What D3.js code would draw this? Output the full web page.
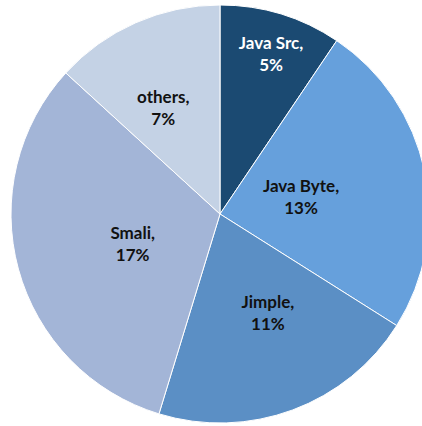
<!DOCTYPE html>
<html>
<head>
<meta charset="utf-8">
<script src="https://cdn.jsdelivr.net/npm/d3@7"></script>
<style>
  html, body { margin: 0; padding: 0; background: #fff; }
  svg { display: block; }
</style>
</head>
<body>
<div id="main"></div>
<script>
// chart data
const categories = ["Java Src", "Java Byte", "Jimple", "Smali", "others"];
const shares = [5, 13, 11, 17, 7];
const colors = ["#1b4a72", "#66a0dc", "#5b8fc5", "#a3b5d7", "#c4d2e5"];
const labelColors = ["#ffffff", "#111111", "#111111", "#111111", "#111111"];

// label placement (radius and small angle nudge, in degrees)
const labelRadius = [169, 83, 109, 92, 121];
const labelNudge = [0.6, -0.6, -5.7, -3.1, -4.2];

const ctx = {
    width: 422,
    height: 426,
    cx: 220,
    cy: 214,
    r: 209
};

function createViz() {
    let svg = d3.select("#main").append("svg")
        .attr("width", ctx.width)
        .attr("height", ctx.height);

    let g = svg.append("g")
        .attr("transform", `translate(${ctx.cx},${ctx.cy})`);

    let pie = d3.pie().sort(null).value(d => d);
    let arcs = pie(shares);

    let arc = d3.arc().innerRadius(0).outerRadius(ctx.r);

    g.selectAll("path.slice")
        .data(arcs)
        .enter().append("path")
        .attr("class", "slice")
        .attr("d", arc)
        .attr("fill", (d, i) => colors[i])
        .attr("stroke", "#ffffff")
        .attr("stroke-width", 1);

    let labels = g.selectAll("text.lbl")
        .data(arcs)
        .enter().append("text")
        .attr("class", "lbl")
        .attr("text-anchor", "middle")
        .attr("font-family", "Lato, 'Open Sans', sans-serif")
        .attr("font-weight", 700)
        .attr("font-size", 17)
        .attr("fill", (d, i) => labelColors[i])
        .attr("transform", (d, i) => {
            let a = (d.startAngle + d.endAngle) / 2 + labelNudge[i] * Math.PI / 180;
            let x = Math.sin(a) * labelRadius[i];
            let y = -Math.cos(a) * labelRadius[i];
            return `translate(${x},${y})`;
        });

    labels.append("tspan")
        .attr("x", 0)
        .attr("y", -4)
        .text((d, i) => categories[i] + ",");

    labels.append("tspan")
        .attr("x", 0)
        .attr("y", 18)
        .text((d, i) => shares[i] + "%");
}

createViz();
</script>
</body>
</html>
